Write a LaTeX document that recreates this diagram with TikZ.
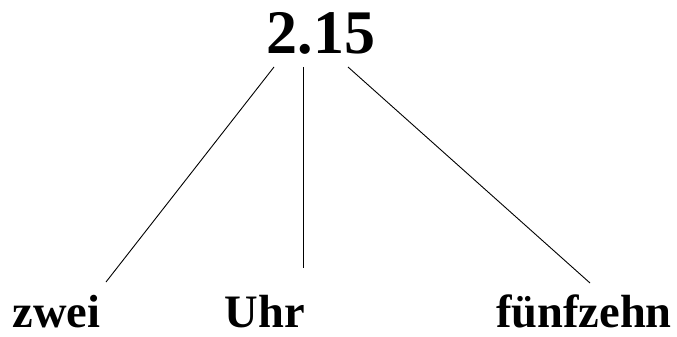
\documentclass[tikz,border=0pt]{standalone}
\usepackage{fontspec}
\setmainfont{Liberation Serif}
\usepackage{tikz}
\usetikzlibrary{positioning}

\begin{document}
\begin{tikzpicture}[x=1pt, y=-1pt, inner sep=0pt,
    big/.style={font=\bfseries\fontsize{62}{72}\selectfont, anchor=base},
    word/.style={font=\bfseries\fontsize{46.5}{56}\selectfont}]
    \useasboundingbox (0,0) rectangle (677,337);
    \node[big] (time) at (321,53) {2.15};
    \node[word, anchor=base west] (hour) at (12.5,327) {zwei};
    \node[word, anchor=base] (clock) at (265,327) {Uhr};
    \node[word, anchor=base east] (minutes) at (672,327) {fünfzehn};
    % end points of the branches
    \coordinate (hour top) at (274,67);
    \coordinate (clock top) at (303,67);
    \coordinate (minutes top) at (348,67);
    \coordinate (hour end) at (106,282);
    \coordinate (clock end) at (303,268);
    \coordinate (minutes end) at (590,283);

    \draw[line width=0.9pt] (hour top) -- (hour end);
    \draw[line width=0.9pt] (clock top) -- (clock end);
    \draw[line width=0.9pt] (minutes top) -- (minutes end);
\end{tikzpicture}
\end{document}
